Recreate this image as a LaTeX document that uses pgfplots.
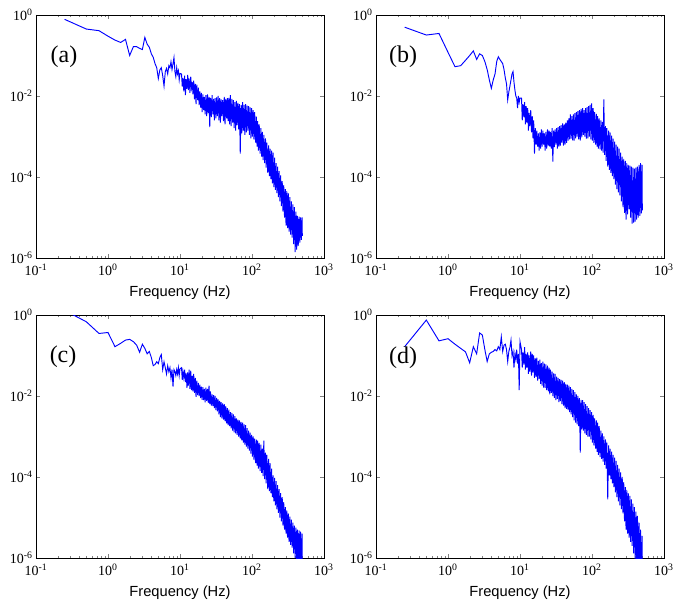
\documentclass[border=0pt]{standalone}
\usepackage{fontspec}
\setmainfont{Liberation Serif}
\setsansfont{Liberation Sans}
\usepackage{pgfplots}
\usepackage{pgfplotstable}
\pgfplotsset{compat=1.18}

% power spectra, columns: frequency, panels (a) (b) (c) (d)
\pgfplotstableread{
f a b c d
0.25 0.78 0.50 1.3 0.165
0.5 0.45 0.32 0.68 0.75
0.75 0.41 0.35 0.35 0.23
1.0 0.30 0.12 0.37 0.26
1.25 0.24 0.053 0.165 0.19
1.5 0.21 0.056 0.20 0.15
1.75 0.25 0.076 0.24 0.123
2.0 0.10 0.10 0.25 0.066
2.25 0.165 0.13 0.22 0.165
2.5 0.165 0.08 0.18 0.11
2.75 0.15 0.11 0.12 0.36
3.0 0.14 0.10 0.19 0.32
3.25 0.28 0.071 0.15 0.14
3.5 0.19 0.045 0.11 0.071
3.75 0.16 0.025 0.126 0.11
4.0 0.11 0.0155 0.089 0.12
4.25 0.09 0.025 0.056 0.126
4.5 0.063 0.035 0.06 0.14
4.75 0.05 0.071 0.07 0.13
5.0 0.027 0.093 0.063 0.165
5.25 0.044 0.08 0.089 0.14
5.5 0.05 0.071 0.105 0.29
5.75 0.032 0.063 0.045 0.126
6.0 0.0175 0.045 0.07 0.18
6.25 0.04 0.028 0.05 0.19
6.5 0.048 0.02 0.035 0.14
6.75 0.035 0.008 0.056 0.071
7.0 0.056 0.0126 0.04 0.126
7.25 0.05 0.0178 0.05 0.16
7.5 0.07 0.025 0.028 0.24
7.75 0.045 0.035 0.045 0.10
8.0 0.063 0.04 0.017 0.126
8.25 0.089 0.022 0.045 0.05
8.5 0.04 0.014 0.04 0.11
8.75 0.03 0.01 0.032 0.08
9.0 0.05 0.0089 0.045 0.14
9.25 0.035 0.005 0.035 0.063
9.5 0.042 0.01 0.05 0.11
9.75 0.025 0.007 0.032 0.014
10 0.036 0.0089 0.047 0.22
10.5 3.5e-2 8.9e-3 5.0e-2 1.4e-1
10.75 1.7e-2 2.5e-3 2.5e-2 5.0e-2
11.0 2.8e-2 6.3e-3 4.0e-2 1.2e-1
11.3 1.3e-2 3.0e-3 2.8e-2 6.0e-2
11.6 3.2e-2 7.1e-3 4.5e-2 1.6e-1
11.9 1.05e-2 2.0e-3 2.2e-2 4.5e-2
12.2 2.6e-2 5.6e-3 3.6e-2 1.1e-1
12.5 1.5e-2 2.2e-3 1.6e-2 5.0e-2
12.8 3.3e-2 5.0e-3 3.8e-2 1.2e-1
13.1 1.4e-2 1.4e-3 1.8e-2 3.5e-2
13.4 2.7e-2 3.8e-3 4.5e-2 1.0e-1
13.75 1.2e-2 1.8e-3 1.5e-2 4.0e-2
14.1 3.0e-2 4.5e-3 4.2e-2 1.26e-1
14.45 1.6e-2 1.26e-3 1.4e-2 3.2e-2
14.8 2.2e-2 3.2e-3 3.2e-2 1.1e-1
15.15 1.1e-2 9.0e-4 1.3e-2 3.8e-2
15.5 2.4e-2 2.5e-3 3.5e-2 1.0e-1
15.9 8.3e-3 3.8e-4 1.2e-2 2.8e-2
16.3 2.0e-2 1.6e-3 2.8e-2 8.5e-2
16.7 6.3e-3 6.3e-4 9.5e-3 3.0e-2
17.1 1.9e-2 1.4e-3 2.4e-2 8.9e-2
17.55 7.9e-3 5.6e-4 1.05e-2 2.4e-2
18.0 1.6e-2 1.2e-3 2.1e-2 7.4e-2
18.45 6.0e-3 4.5e-4 1.0e-2 2.6e-2
18.9 1.3e-2 1.26e-3 1.9e-2 7.9e-2
19.35 5.2e-3 5.0e-4 8.9e-3 2.0e-2
19.8 1.2e-2 1.5e-3 1.7e-2 6.5e-2
20.3 4.0e-3 5.6e-4 8.0e-3 1.8e-2
20.8 1.1e-2 1.4e-3 1.66e-2 7.1e-2
21.3 4.5e-3 6.3e-4 7.9e-3 1.6e-2
21.8 9.5e-3 1.2e-3 1.5e-2 6.3e-2
22.35 3.5e-3 4.5e-4 7.0e-3 1.6e-2
22.9 1.05e-2 1.3e-3 1.6e-2 6.0e-2
23.5 3.2e-3 5.0e-4 7.6e-3 1.4e-2
24.1 1.1e-2 1.5e-3 1.5e-2 5.6e-2
24.7 3.8e-3 6.0e-4 6.8e-3 1.3e-2
25.3 9.5e-3 1.4e-3 1.8e-2 5.0e-2
25.9 1.7e-3 5.6e-4 6.3e-3 1.1e-2
26.5 9.0e-3 1.3e-3 1.3e-2 4.5e-2
27.2 3.0e-3 5.0e-4 5.8e-3 1.2e-2
27.9 1.05e-2 1.6e-3 1.1e-2 4.0e-2
28.6 3.5e-3 2.4e-4 5.6e-3 1.0e-2
29.3 8.5e-3 1.4e-3 1.05e-2 3.6e-2
30.0 2.5e-3 5.5e-4 5.0e-3 9.0e-3
30.7 8.9e-3 1.5e-3 1.0e-2 3.5e-2
31.5 2.8e-3 6.3e-4 4.5e-3 7.9e-3
32.3 9.2e-3 1.6e-3 9.0e-3 3.0e-2
33.1 3.2e-3 5.0e-4 4.2e-3 8.5e-3
33.9 1.0e-2 1.7e-3 8.3e-3 2.8e-2
34.75 2.5e-3 5.6e-4 3.5e-3 7.1e-3
35.6 8.9e-3 1.8e-3 7.6e-3 2.6e-2
36.45 2.2e-3 6.0e-4 3.0e-3 7.5e-3
37.3 8.3e-3 1.9e-3 7.1e-3 2.5e-2
38.25 3.2e-3 7.1e-4 2.8e-3 6.3e-3
39.2 7.9e-3 2.1e-3 6.6e-3 2.4e-2
40.2 2.4e-3 6.0e-4 2.6e-3 5.8e-3
41.2 9.5e-3 2.0e-3 6.3e-3 2.2e-2
42.2 2.0e-3 6.3e-4 2.4e-3 5.0e-3
43.2 8.5e-3 2.2e-3 5.6e-3 2.0e-2
44.3 2.8e-3 7.0e-4 2.1e-3 4.8e-3
45.4 8.9e-3 2.5e-3 5.0e-3 1.9e-2
46.5 2.4e-3 7.9e-4 1.9e-3 4.5e-3
47.6 9.0e-3 2.8e-3 4.6e-3 1.8e-2
48.8 2.0e-3 8.5e-4 1.8e-3 4.0e-3
50.0 1.05e-2 3.5e-3 4.0e-3 1.66e-2
51.25 1.8e-3 8.9e-4 1.6e-3 3.5e-3
52.5 8.5e-3 3.2e-3 3.8e-3 1.5e-2
53.8 2.2e-3 8.0e-4 1.4e-3 3.0e-3
55.1 7.9e-3 3.5e-3 3.5e-3 1.4e-2
56.5 1.6e-3 7.9e-4 1.26e-3 2.5e-3
57.9 7.1e-3 3.8e-3 3.2e-3 1.25e-2
59.3 1.4e-3 9.0e-4 1.2e-3 2.2e-3
60.8 7.6e-3 4.0e-3 2.8e-3 1.1e-2
62.3 1.9e-3 1.0e-3 1.1e-3 2.0e-3
63.8 6.8e-3 4.2e-3 2.6e-3 1.0e-2
65.4 1.5e-3 8.5e-4 1.0e-3 1.8e-3
67.0 6.3e-3 4.5e-3 2.5e-3 8.9e-3
68.7 3.8e-4 7.9e-4 8.9e-4 4.0e-4
70.4 6.0e-3 4.8e-3 2.3e-3 8.0e-3
72.1 1.2e-3 9.5e-4 8.0e-4 1.5e-3
73.9 7.1e-3 5.0e-3 2.2e-3 7.9e-3
75.7 1.4e-3 1.1e-3 7.1e-4 1.4e-3
77.6 6.0e-3 4.5e-3 2.0e-3 7.1e-3
79.5 1.1e-3 1.0e-3 6.3e-4 1.2e-3
81.5 6.3e-3 5.0e-3 1.9e-3 6.3e-3
83.5 1.26e-3 8.9e-4 5.6e-4 1.1e-3
85.5 5.8e-3 5.3e-3 1.6e-3 5.6e-3
87.6 1.4e-3 9.0e-4 5.0e-4 1.0e-3
89.8 5.6e-3 5.6e-3 1.4e-3 5.0e-3
92.0 1.1e-3 1.0e-3 4.5e-4 1.0e-3
94.3 5.2e-3 6.0e-3 1.25e-3 4.5e-3
96.6 9.0e-4 8.5e-4 3.8e-4 8.5e-4
99.0 5.0e-3 6.6e-3 1.1e-3 4.0e-3
101.5 1.0e-3 7.9e-4 3.2e-4 7.1e-4
104 4.5e-3 5.0e-3 1.0e-3 3.4e-3
106.5 8.5e-4 7.0e-4 2.7e-4 6.0e-4
109 4.0e-3 4.0e-3 8.9e-4 2.8e-3
112 7.1e-4 6.3e-4 2.2e-4 5.0e-4
115 3.1e-3 3.6e-3 8.4e-4 2.5e-3
117.5 5.6e-4 5.6e-4 1.9e-4 4.2e-4
120 2.4e-3 3.2e-3 7.9e-4 2.2e-3
123 4.5e-4 5.0e-4 1.6e-4 3.5e-4
126 2.0e-3 2.8e-3 7.0e-4 1.8e-3
129.5 3.8e-4 4.8e-4 1.4e-4 3.1e-4
133 1.6e-3 2.5e-3 6.3e-4 1.4e-3
136 3.2e-4 4.5e-4 1.26e-4 2.8e-4
139 1.3e-3 2.3e-3 5.0e-4 1.2e-3
142.5 2.6e-4 4.0e-4 1.05e-4 2.4e-4
146 1.1e-3 8.3e-3 7.9e-4 1.0e-3
150 2.2e-4 3.5e-4 8.9e-5 2.0e-4
154 9.0e-4 1.8e-3 4.0e-4 8.5e-4
157.5 1.7e-4 2.5e-4 7.0e-5 1.6e-4
161 7.1e-4 1.6e-3 3.5e-4 7.1e-4
165.5 1.26e-4 1.8e-4 5.0e-5 2.8e-5
170 6.0e-4 1.4e-3 2.8e-4 6.0e-4
174 1.05e-4 1.5e-4 4.5e-5 1.1e-4
178 5.0e-4 1.26e-3 2.2e-4 5.0e-4
182.5 8.9e-5 1.26e-4 4.0e-5 8.9e-5
187 4.5e-4 1.05e-3 1.6e-4 4.2e-4
191.5 7.0e-5 1.05e-4 3.2e-5 7.0e-5
196 4.0e-4 8.9e-4 1.1e-4 3.5e-4
201 5.6e-5 8.9e-5 2.5e-5 5.6e-5
206 3.0e-4 7.5e-4 9.5e-5 3.0e-4
211 4.8e-5 6.5e-5 2.0e-5 4.2e-5
216 2.2e-4 6.3e-4 7.9e-5 2.5e-4
221.5 4.0e-5 5.0e-5 1.6e-5 3.2e-5
227 1.8e-4 5.6e-4 6.3e-5 2.0e-4
232.5 3.2e-5 4.2e-5 1.3e-5 2.5e-5
238 1.4e-4 5.0e-4 5.0e-5 1.6e-4
244 2.5e-5 3.5e-5 1.0e-5 2.0e-5
250 1.1e-4 4.0e-4 4.0e-5 1.3e-4
256.5 1.9e-5 2.5e-5 8.0e-6 1.6e-5
263 7.9e-5 3.2e-4 3.2e-5 1.0e-4
269.5 1.4e-5 1.8e-5 6.3e-6 1.26e-5
276 6.3e-5 2.8e-4 2.4e-5 7.5e-5
283 1.0e-5 1.3e-5 5.0e-6 8.0e-6
290 5.0e-5 2.5e-4 1.8e-5 5.6e-5
297 6.3e-6 8.9e-6 4.0e-6 5.0e-6
304 4.5e-5 2.2e-4 1.5e-5 4.8e-5
311.5 5.5e-6 1.2e-5 3.2e-6 4.0e-6
319 4.0e-5 2.0e-4 1.26e-5 4.0e-5
327 4.5e-6 1.6e-5 2.5e-6 3.2e-6
335 3.2e-5 1.9e-4 1.05e-5 3.4e-5
343.5 3.8e-6 1.0e-5 2.1e-6 2.5e-6
352 2.5e-5 1.8e-4 8.9e-6 2.8e-5
361 3.2e-6 7.1e-6 1.8e-6 2.0e-6
370 2.1e-5 1.7e-4 7.5e-6 2.2e-5
379 2.2e-6 7.5e-6 1.3e-6 1.3e-6
388 1.8e-5 1.6e-4 6.3e-6 1.8e-5
398 1.4e-6 7.9e-6 1.0e-6 7.9e-7
408 1.4e-5 1.7e-4 5.6e-6 1.4e-5
418 1.6e-6 8.9e-6 8.0e-7 5.6e-7
428 1.1e-5 1.8e-4 5.0e-6 1.1e-5
439 2.0e-6 1.0e-5 6.3e-7 4.0e-7
450 1.05e-5 2.0e-4 4.8e-6 7.5e-6
461 2.4e-6 1.1e-5 5.6e-7 3.2e-7
472 1.0e-5 2.2e-4 4.5e-6 5.0e-6
484 2.8e-6 1.26e-5 5.0e-7 2.5e-7
496 1.0e-5 2.0e-4 4.0e-6 3.5e-6
500 3.5e-6 1.5e-5 5.0e-7 2.5e-7
}\spectra

% shared look of the four panels
\pgfplotsset{
  every axis/.append style={
    scale only axis, width=216pt, height=182.25pt,
    xmin=0.1, xmax=1000, ymin=1e-6, ymax=1,
    xtick={0.1,1,10,100,1000},
    xticklabels={10\textsuperscript{-1},10\textsuperscript{0},10\textsuperscript{1},10\textsuperscript{2},10\textsuperscript{3}},
    ytick={1e-6,1e-4,1e-2,1},
    yticklabels={10\textsuperscript{-6},10\textsuperscript{-4},10\textsuperscript{-2},10\textsuperscript{0}},
    yminorticks=false,
    tick align=inside,
    major tick length=3pt, minor tick length=1.8pt,
    axis line style={line width=0.6pt},
    tick label style={font=\fontsize{10.5}{12}\selectfont},
    xticklabel style={yshift=-1pt},
    yticklabel style={xshift=1pt},
    xlabel={Frequency (Hz)},
    xlabel style={font=\sffamily\fontsize{11}{13}\selectfont, at={(axis description cs:0.5,0)}, anchor=center, yshift=-26.25pt},
  },
}

\begin{document}
\begin{tikzpicture}
\path[use as bounding box] (0,0) rectangle (506.25pt,452.25pt);

\begin{loglogaxis}[anchor=south west, at={(27pt,258.75pt)}]
  \addplot[blue, line width=0.7pt] table[x=f, y=a] {\spectra};
  \node[font=\fontsize{18}{20}\selectfont] at (rel axis cs:0.097,0.827) {(a)};
\end{loglogaxis}

\begin{loglogaxis}[anchor=south west, at={(282pt,258.75pt)}]
  \addplot[blue, line width=0.7pt] table[x=f, y=b] {\spectra};
  \node[font=\fontsize{18}{20}\selectfont] at (rel axis cs:0.094,0.827) {(b)};
\end{loglogaxis}

\begin{loglogaxis}[anchor=south west, at={(27pt,33.75pt)}]
  \addplot[blue, line width=0.7pt] table[x=f, y=c] {\spectra};
  \node[font=\fontsize{18}{20}\selectfont] at (rel axis cs:0.094,0.827) {(c)};
\end{loglogaxis}

\begin{loglogaxis}[anchor=south west, at={(282pt,33.75pt)}]
  \addplot[blue, line width=0.7pt] table[x=f, y=d] {\spectra};
  \node[font=\fontsize{18}{20}\selectfont] at (rel axis cs:0.094,0.823) {(d)};
\end{loglogaxis}
\end{tikzpicture}
\end{document}
